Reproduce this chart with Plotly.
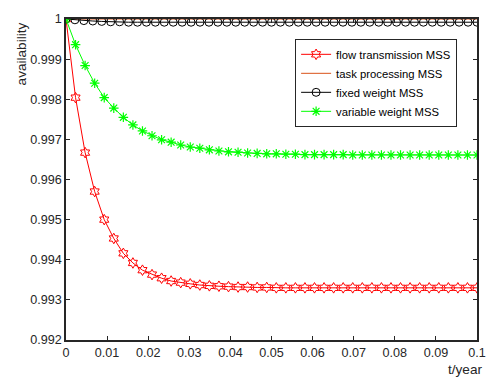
import numpy as np
import plotly.graph_objects as go

# ---- data ----
flow_y = [1.0, 0.99804, 0.99667, 0.99570, 0.99500, 0.99453, 0.99416, 0.99392,
          0.99374, 0.99363, 0.99354, 0.99347, 0.99343, 0.99340, 0.99337, 0.99335,
          0.99334, 0.99333, 0.99332, 0.99332, 0.99331, 0.99331, 0.99330, 0.99330,
          0.99330, 0.99330, 0.99330, 0.99330, 0.99330, 0.99330, 0.99330, 0.99330,
          0.99330, 0.99330, 0.99330, 0.99330, 0.99330, 0.99330, 0.99330, 0.99330,
          0.99330, 0.99330, 0.99330, 0.99330]
var_y = [1.0, 0.99936, 0.99884, 0.99840, 0.99804, 0.99778, 0.99755, 0.99736,
         0.99721, 0.99709, 0.99699, 0.99693, 0.99686, 0.99681, 0.99678, 0.99674,
         0.99671, 0.99669, 0.99668, 0.99666, 0.99665, 0.99664, 0.99664, 0.99663,
         0.99663, 0.99662, 0.99662, 0.99662, 0.99662, 0.99662, 0.99661, 0.99661,
         0.99661, 0.99661, 0.99661, 0.99661, 0.99661, 0.99661, 0.99661, 0.99661,
         0.99661, 0.99661, 0.99661, 0.99661]
fixed_y = [1.0, 0.99998, 0.99996, 0.99995, 0.99994, 0.99993, 0.99993, 0.99992,
           0.99992, 0.99992, 0.99992, 0.99992, 0.99992, 0.99992, 0.99992, 0.99992,
           0.99992, 0.99992, 0.99992, 0.99992, 0.99992, 0.99992, 0.99992, 0.99992,
           0.99992, 0.99992, 0.99992, 0.99992, 0.99992, 0.99992, 0.99992, 0.99992,
           0.99992, 0.99992, 0.99992, 0.99992, 0.99992, 0.99992, 0.99992, 0.99992,
           0.99992, 0.99992, 0.99992, 0.99992, 0.99992, 0.99992, 0.99992]
task_y = [1.0, 1.0]
t_main = np.linspace(0, 0.1, len(flow_y))
t_fixed = np.linspace(0, 0.1, len(fixed_y))
t_task = [0, 0.1]

x_ticks = [0, 0.01, 0.02, 0.03, 0.04, 0.05, 0.06, 0.07, 0.08, 0.09, 0.1]
x_tick_text = ["0", "0.01", "0.02", "0.03", "0.04", "0.05", "0.06", "0.07", "0.08", "0.09", "0.1"]
y_ticks = [0.992, 0.993, 0.994, 0.995, 0.996, 0.997, 0.998, 0.999, 1.0]
y_tick_text = ["0.992", "0.993", "0.994", "0.995", "0.996", "0.997", "0.998", "0.999", "1"]

FONT = "Liberation Sans, Arial, sans-serif"
W, H = 498, 381
L, R, T, B = 66, 14, 16, 41
PW, PH = W - L - R, H - T - B

fig = go.Figure()
fig.add_trace(go.Scatter(x=t_main, y=flow_y, name="flow transmission MSS", mode="lines+markers",
                         line=dict(color="#FF0000", width=1),
                         marker=dict(symbol="hexagram-open", size=8, color="#FF0000", line=dict(width=1))))
fig.add_trace(go.Scatter(x=t_task, y=task_y, name="task processing MSS", mode="lines",
                         line=dict(color="#D95319", width=1)))
fig.add_trace(go.Scatter(x=t_fixed, y=fixed_y, name="fixed weight MSS", mode="lines+markers",
                         line=dict(color="#000000", width=1),
                         marker=dict(symbol="circle-open", size=8, color="#000000", line=dict(width=1))))
fig.add_trace(go.Scatter(x=t_main, y=var_y, name="variable weight MSS", mode="lines+markers",
                         line=dict(color="#00FF00", width=1),
                         marker=dict(symbol="asterisk-open", size=8, color="#00FF00", line=dict(width=1.2))))

axis_common = dict(showgrid=False, zeroline=False, showline=True, linecolor="#262626", linewidth=1.5,
                   mirror="ticks", ticks="inside", ticklen=4, tickcolor="#262626", tickwidth=1,
                   tickfont=dict(family=FONT, size=12.6, color="#262626"))
fig.update_xaxes(range=[0, 0.1], tickvals=x_ticks, ticktext=x_tick_text, **axis_common)
fig.update_yaxes(range=[0.992, 1.0], tickvals=y_ticks, ticktext=y_tick_text, **axis_common)

fig.update_layout(
    width=W, height=H,
    margin=dict(l=L, r=R, t=T, b=B),
    plot_bgcolor="white", paper_bgcolor="white",
    showlegend=True,
    legend=dict(x=(299 - L) / PW, y=(H - B - 36) / PH, xanchor="left", yanchor="top",
                bgcolor="white", bordercolor="#262626", borderwidth=1,
                font=dict(family=FONT, size=11.3, color="#000000"),
                itemwidth=30, tracegroupgap=0),
    annotations=[
        dict(text="availability", x=(21 - L) / PW, y=(H - B - 51) / PH, xref="paper", yref="paper",
             xanchor="center", yanchor="middle",
             showarrow=False, textangle=-90, font=dict(family=FONT, size=13.6, color="#262626")),
        dict(text="t/year", x=(472 - L) / PW, y=(H - B - 370) / PH, xref="paper", yref="paper",
             xanchor="center", yanchor="middle",
             showarrow=False, font=dict(family=FONT, size=13.6, color="#262626")),
    ],
)
fig.write_html("out.html", config={"displayModeBar": False},
               post_script="document.body.style.margin='0';document.body.style.padding='0';")
